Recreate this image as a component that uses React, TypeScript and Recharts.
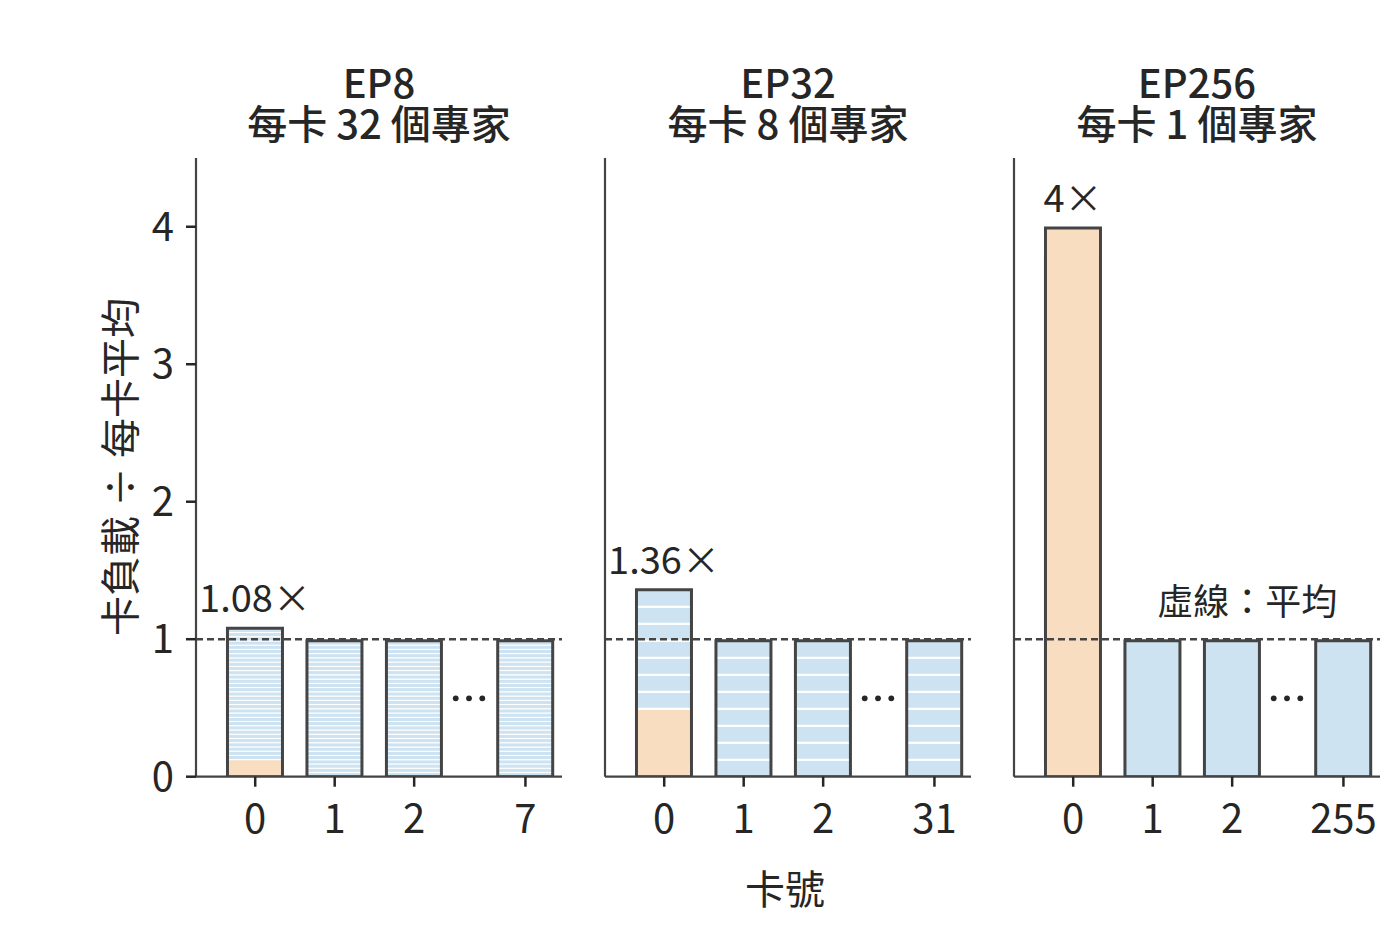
import React from 'react';
import { BarChart, Bar, XAxis, YAxis, ReferenceLine, ReferenceDot, LabelList, Cell } from 'recharts';

const FONT = '"Noto Sans CJK TC", "Noto Sans CJK SC", sans-serif';
const INK = '#262626';
const EDGE = '#444444';
const BLUE = '#cde3f2';
const ORANGE = '#f8ddc0';

// 卡的位置：0,1,2 之後留一段空隙放「…」
const CARD_POS = [0, 1, 2, 3.4];
const X_DOMAIN = [-0.745, 3.86];
const Y_TICKS = [0, 1, 2, 3, 4];

const EP8_CARDS = ['0', '1', '2', '7'];
const EP32_CARDS = ['0', '1', '2', '31'];
const EP256_CARDS = ['0', '1', '2', '255'];

// 每張卡的總負載（÷ 每卡平均）
const EP8_LOAD = [1.08, 0.988, 0.988, 0.988];
const EP32_LOAD = [1.36, 0.988, 0.988, 0.988];
const EP256_LOAD = [3.99, 0.988, 0.988, 0.988];

// 熱門專家佔的部分（橘色）
const EP8_HOT = [0.124, 0, 0, 0];
const EP32_HOT = [0.494, 0, 0, 0];
const EP256_HOT = [3.99, 0, 0, 0];

const EXPERTS_PER_CARD = [32, 8, 1];
const PEAK_LABELS = ['1.08×', '1.36×', '4×'];
const TITLES = [
  ['EP8', '每卡 32 個專家'],
  ['EP32', '每卡 8 個專家'],
  ['EP256', '每卡 1 個專家'],
];

const ELLIPSIS_AT = { x: 2.69, y: 0.57 };
const NOTE_AT = { x: 2.19, y: 1.29 };

function buildRows(load: number[], hot: number[], n: number, peak: string) {
  return CARD_POS.map((pos, i) => {
    const row: Record<string, number | string> = { pos, total: load[i], label: i === 0 ? peak : '' };
    const segs =
      hot[i] > 0
        ? [hot[i], ...Array(n - 1).fill((load[i] - hot[i]) / (n - 1))]
        : Array(n).fill(load[i] / n);
    segs.forEach((v, k) => {
      row['s' + k] = v;
    });
    return row;
  });
}

const PANELS = [
  { cards: EP8_CARDS, hot: EP8_HOT, n: EXPERTS_PER_CARD[0], rows: buildRows(EP8_LOAD, EP8_HOT, EXPERTS_PER_CARD[0], PEAK_LABELS[0]), sep: 1, left: 115.7, first: true, note: false },
  { cards: EP32_CARDS, hot: EP32_HOT, n: EXPERTS_PER_CARD[1], rows: buildRows(EP32_LOAD, EP32_HOT, EXPERTS_PER_CARD[1], PEAK_LABELS[1]), sep: 2, left: 525, first: false, note: false },
  { cards: EP256_CARDS, hot: EP256_HOT, n: EXPERTS_PER_CARD[2], rows: buildRows(EP256_LOAD, EP256_HOT, EXPERTS_PER_CARD[2], PEAK_LABELS[2]), sep: 0, left: 934.3, first: false, note: true },
];

const Dots = (props: any) => (
  <g>
    {[-13.3, 0, 13.3].map((dx) => (
      <circle key={dx} cx={props.cx + dx} cy={props.cy} r={2.9} fill={INK} />
    ))}
  </g>
);

const Note = (props: any) => (
  <text x={props.cx} y={props.cy} textAnchor="middle" dominantBaseline="central" fill={INK} fontSize={36} fontFamily={FONT}>
    虛線：平均
  </text>
);

function Panel({ p }: { p: (typeof PANELS)[number] }) {
  const keys = Array.from({ length: p.n }, (_, k) => 's' + k);
  return (
    <div style={{ position: 'absolute', left: p.left, top: 148 }}>
      <BarChart width={456} height={720} data={p.rows} margin={{ top: 10, right: 10, bottom: 31.3, left: 0 }}>
        <XAxis
          xAxisId="cards"
          type="number"
          dataKey="pos"
          domain={X_DOMAIN}
          allowDataOverflow
          ticks={CARD_POS}
          interval={0}
          tickFormatter={(v: number) => p.cards[CARD_POS.indexOf(v)]}
          height={60}
          tickSize={10}
          tickMargin={18}
          axisLine={{ stroke: EDGE, strokeWidth: 2.2 }}
          tickLine={{ stroke: INK, strokeWidth: 2.5 }}
          tick={{ fill: INK, fontSize: 40, fontFamily: FONT }}
        />
        <XAxis xAxisId="frame" type="number" dataKey="pos" domain={X_DOMAIN} allowDataOverflow ticks={CARD_POS} hide />
        <YAxis
          type="number"
          domain={[0, 4.5]}
          allowDataOverflow
          ticks={Y_TICKS}
          interval={0}
          width={80}
          tickSize={10}
          tickMargin={12}
          axisLine={{ stroke: EDGE, strokeWidth: 2.2 }}
          tickLine={p.first ? { stroke: INK, strokeWidth: 2.5 } : false}
          tick={p.first ? { fill: INK, fontSize: 40, fontFamily: FONT } : false}
        />
        {keys.map((k) => (
          <Bar
            key={k}
            xAxisId="cards"
            dataKey={k}
            stackId="load"
            barSize={55}
            fill={BLUE}
            stroke="#ffffff"
            strokeWidth={p.sep}
            isAnimationActive={false}
          >
            {p.rows.map((_, i) => (
              <Cell key={i} fill={k === 's0' && p.hot[i] > 0 ? ORANGE : BLUE} />
            ))}
          </Bar>
        ))}
        <Bar xAxisId="frame" dataKey="total" barSize={55} fill="none" stroke={EDGE} strokeWidth={3} isAnimationActive={false}>
          <LabelList dataKey="label" position="top" offset={16} fill={INK} fontSize={38} fontFamily={FONT} />
        </Bar>
        <ReferenceLine xAxisId="cards" y={1} stroke={EDGE} strokeWidth={2.5} strokeDasharray="7 4" />
        <ReferenceDot xAxisId="cards" x={ELLIPSIS_AT.x} y={ELLIPSIS_AT.y} shape={Dots} />
        {p.note && <ReferenceDot xAxisId="cards" x={NOTE_AT.x} y={NOTE_AT.y} shape={Note} />}
      </BarChart>
    </div>
  );
}

const CENTERS = [379, 788, 1197];

export default function App() {
  return (
    <div style={{ position: 'absolute', left: 0, top: 0, width: 1400, height: 936, background: '#fff', fontFamily: FONT, color: INK }}>
      {TITLES.map((t, i) => (
        <div
          key={t[0]}
          style={{ position: 'absolute', left: CENTERS[i] - 220, top: 61, width: 440, textAlign: 'center', fontSize: 40, lineHeight: '41px', fontWeight: 500 }}
        >
          <div>{t[0]}</div>
          <div>{t[1]}</div>
        </div>
      ))}
      {PANELS.map((p, i) => (
        <Panel key={i} p={p} />
      ))}
      <div
        style={{ position: 'absolute', left: 118, top: 467, transform: 'translate(-50%, -50%) rotate(-90deg)', whiteSpace: 'nowrap', fontSize: 40 }}
      >
        卡負載 ÷ 每卡平均
      </div>
      <div style={{ position: 'absolute', left: 785, top: 887, transform: 'translate(-50%, -50%)', whiteSpace: 'nowrap', fontSize: 40 }}>
        卡號
      </div>
    </div>
  );
}
